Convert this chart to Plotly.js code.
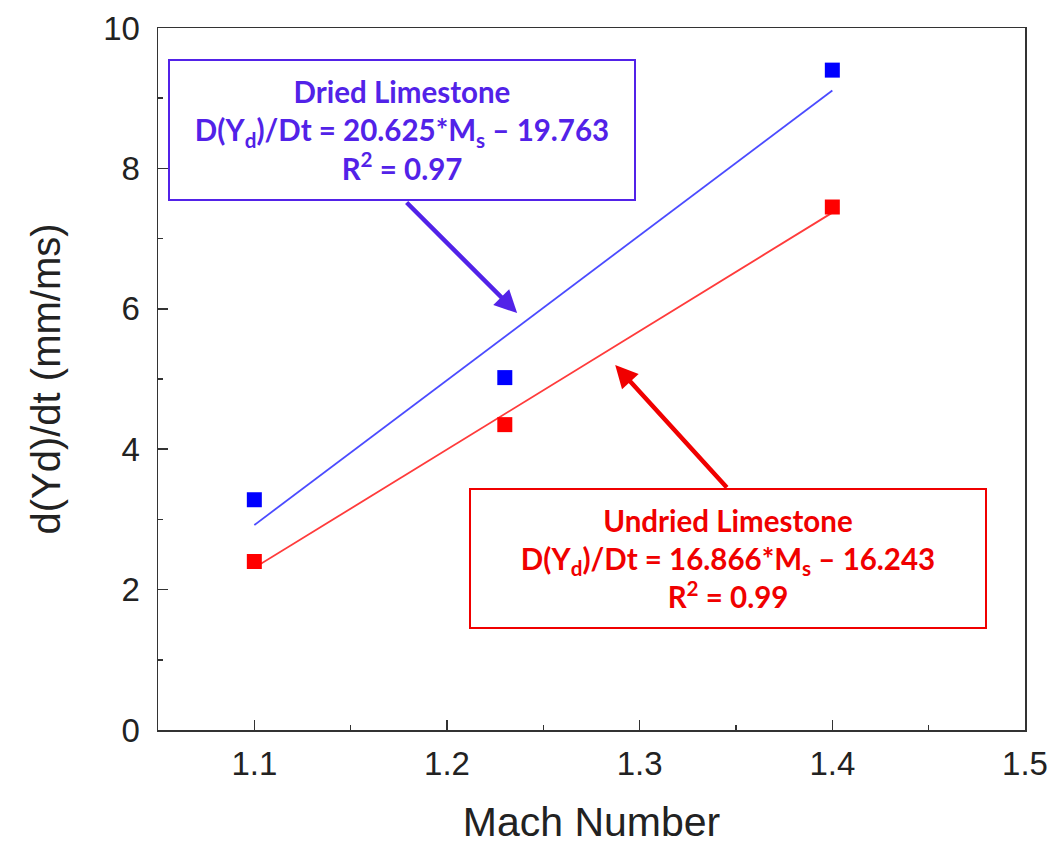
<!DOCTYPE html>
<html>
<head>
<meta charset="utf-8">
<script src="https://cdn.plot.ly/plotly-3.0.1.min.js"></script>
<style>html,body{margin:0;padding:0;background:#fff;}#chart{width:1048px;height:846px;}</style>
</head>
<body>
<div id="chart"></div>
<script>
// Measured points
const machDried = [1.1, 1.23, 1.4];
const rateDried = [3.28, 5.02, 9.4];
const machUndried = [1.1, 1.23, 1.4];
const rateUndried = [2.4, 4.35, 7.45];
// Linear fit lines (endpoints)
const fitMach = [1.1, 1.4];
const fitDried = [2.92, 9.11];
const fitUndried = [2.31, 7.37];
// Tick labels
const xTicks = [1.1, 1.2, 1.3, 1.4, 1.5];
const yTicks = [0, 2, 4, 6, 8, 10];

const blueTxt = '#5222E8';
const redTxt = '#F00000';

const traces = [
  {x: fitMach, y: fitDried, mode: 'lines', line: {color: '#4B4BFF', width: 1.8}, hoverinfo: 'skip'},
  {x: fitMach, y: fitUndried, mode: 'lines', line: {color: '#FF3B3B', width: 1.8}, hoverinfo: 'skip'},
  {x: machDried, y: rateDried, mode: 'markers', marker: {symbol: 'square', size: 15, color: '#0000FF'}},
  {x: machUndried, y: rateUndried, mode: 'markers', marker: {symbol: 'square', size: 15, color: '#FF0000'}}
];

const annFont = {family: 'Lato, "Open Sans", sans-serif', size: 29.5};

const layout = {
  width: 1048, height: 846,
  margin: {l: 158, r: 23, t: 28, b: 116},
  showlegend: false,
  paper_bgcolor: '#fff', plot_bgcolor: '#fff',
  font: {family: '"Liberation Sans", Arial, sans-serif', color: '#222'},
  xaxis: {
    range: [1.05, 1.5], tickvals: xTicks, ticktext: xTicks.map(v => v.toFixed(1)),
    ticks: 'inside', ticklen: 10, tickwidth: 1.5, tickcolor: '#333',
    minor: {dtick: 0.05, tick0: 1.05, ticks: 'inside', ticklen: 5, tickwidth: 1.5, tickcolor: '#333'},
    showline: true, linecolor: '#333', linewidth: 1.5, mirror: true,
    showgrid: false, zeroline: false, automargin: false,
    ticklabeloverflow: 'allow',
    tickfont: {size: 33, color: '#222'}, ticklabelstandoff: 4,
    title: {text: 'Mach Number', font: {size: 41, color: '#222'}, standoff: 26}
  },
  yaxis: {
    range: [0, 10], tickvals: yTicks,
    ticks: 'inside', ticklen: 10, tickwidth: 1.5, tickcolor: '#333',
    minor: {dtick: 1, ticks: 'inside', ticklen: 5, tickwidth: 1.5, tickcolor: '#333'},
    showline: true, linecolor: '#333', linewidth: 1.5, mirror: true,
    showgrid: false, zeroline: false, automargin: false,
    tickfont: {size: 33, color: '#222'}, ticklabelstandoff: 10,
    title: {text: 'd(Yd)/dt (mm/ms)', font: {size: 40, color: '#222'}, standoff: 30}
  },
  annotations: [
    {
      xref: 'paper', yref: 'paper', x: 0.281, y: 0.854, xanchor: 'center', yanchor: 'middle',
      showarrow: false, align: 'center', width: 460, height: 134,
      bordercolor: blueTxt, borderwidth: 2, borderpad: 2, bgcolor: '#fff',
      font: Object.assign({}, annFont, {color: blueTxt, weight: 700}),
      text: '<b>Dried Limestone</b><br><b>D(Y<sub>d</sub>)/Dt = 20.625*M<sub>s</sub> – 19.763</b><br><b>R<sup>2</sup> = 0.97</b>'
    },
    {
      xref: 'paper', yref: 'paper', x: 0.658, y: 0.245, xanchor: 'center', yanchor: 'middle',
      showarrow: false, align: 'center', width: 510, height: 133,
      bordercolor: redTxt, borderwidth: 2, borderpad: 2, bgcolor: '#fff',
      font: Object.assign({}, annFont, {color: redTxt, weight: 700}),
      text: '<b>Undried Limestone</b><br><b>D(Y<sub>d</sub>)/Dt = 16.866*M<sub>s</sub> – 16.243</b><br><b>R<sup>2</sup> = 0.99</b>'
    },
    {
      xref: 'x', yref: 'y', x: 1.2364, y: 5.94, axref: 'pixel', ayref: 'pixel', ax: -112, ay: -112,
      text: '', showarrow: true, arrowhead: 2, arrowsize: 1, arrowwidth: 4.5, arrowcolor: blueTxt
    },
    {
      xref: 'x', yref: 'y', x: 1.2873, y: 5.2, axref: 'pixel', ayref: 'pixel', ax: 113, ay: 124,
      text: '', showarrow: true, arrowhead: 2, arrowsize: 1, arrowwidth: 4.5, arrowcolor: redTxt
    }
  ]
};

Plotly.newPlot('chart', traces, layout, {displayModeBar: false, staticPlot: true});
</script>
</body>
</html>
